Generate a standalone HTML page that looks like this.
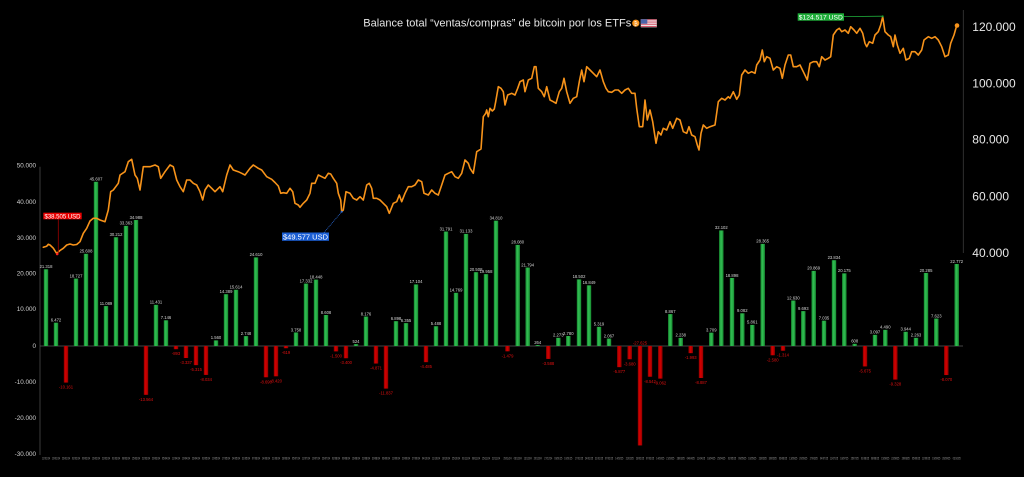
<!DOCTYPE html>
<html><head><meta charset="utf-8"><style>
html,body{margin:0;padding:0;background:#000;}
svg{display:block;}
.yl{font-family:"Liberation Sans",sans-serif;font-size:6.3px;fill:#cfcfcf;text-anchor:end;}
.yr{font-family:"Liberation Sans",sans-serif;font-size:12px;fill:#e8e8e8;}
.pl{font-family:"Liberation Sans",sans-serif;font-size:4.2px;fill:#d8d8d8;text-anchor:middle;}
.nl{font-family:"Liberation Sans",sans-serif;font-size:4.2px;fill:#e01010;text-anchor:middle;}
.xl{font-family:"Liberation Sans",sans-serif;font-size:3.4px;fill:#9a9a9a;text-anchor:middle;}
</style></head><body>
<svg width="1024" height="477" viewBox="0 0 1024 477" xmlns="http://www.w3.org/2000/svg">
<defs>
<linearGradient id="g" x1="0" x2="1" y1="0" y2="0"><stop offset="0" stop-color="#168a2e"/><stop offset="0.45" stop-color="#33c055"/><stop offset="1" stop-color="#168a2e"/></linearGradient>
<linearGradient id="r" x1="0" x2="1" y1="0" y2="0"><stop offset="0" stop-color="#8e0000"/><stop offset="0.45" stop-color="#d80000"/><stop offset="1" stop-color="#8e0000"/></linearGradient>
</defs>
<rect width="1024" height="477" fill="#000"/>

<!-- title -->
<text x="363.3" y="26.6" font-family="'Liberation Sans',sans-serif" font-size="11" fill="#e6e6e6" textLength="268" lengthAdjust="spacingAndGlyphs">Balance total “ventas/compras” de bitcoin por los ETFs</text>
<circle cx="635.8" cy="23.2" r="3.6" fill="#f7931a"/>
<text x="635.8" y="25.3" font-family="'Liberation Sans',sans-serif" font-size="5" fill="#fff" text-anchor="middle">₿</text>
<g>
<rect x="640.8" y="19.3" width="16" height="8" fill="#f2f2f2"/>
<rect x="640.8" y="19.3" width="16" height="1.1" fill="#d5566c"/>
<rect x="640.8" y="21.5" width="16" height="1.1" fill="#d5566c"/>
<rect x="640.8" y="23.7" width="16" height="1.1" fill="#d5566c"/>
<rect x="640.8" y="25.9" width="16" height="1.1" fill="#d5566c"/>
<rect x="640.8" y="19.3" width="6.5" height="4.4" fill="#4a64a8"/>
</g>

<!-- axes -->
<line x1="40" y1="166.7" x2="40" y2="455" stroke="#4a4a4a" stroke-width="0.8"/>
<line x1="963.3" y1="10" x2="963.3" y2="253" stroke="#3a3a3a" stroke-width="0.8"/>
<line x1="40" y1="346" x2="963" y2="346" stroke="#5a5a5a" stroke-width="0.7"/>

<!-- left labels -->
<text class="yl" x="36" y="167.7">50.000</text>
<text class="yl" x="36" y="203.9">40.000</text>
<text class="yl" x="36" y="239.9">30.000</text>
<text class="yl" x="36" y="275.4">20.000</text>
<text class="yl" x="36" y="311.2">10.000</text>
<text class="yl" x="36" y="347.9">0</text>
<text class="yl" x="36" y="383.9">-10.000</text>
<text class="yl" x="36" y="420.2">-20.000</text>
<text class="yl" x="36" y="456.2">-30.000</text>

<!-- right labels -->
<text class="yr" x="972.3" y="31">120.000</text>
<text class="yr" x="972.3" y="87.6">100.000</text>
<text class="yr" x="972.3" y="143.6">80.000</text>
<text class="yr" x="972.3" y="200.3">60.000</text>
<text class="yr" x="972.3" y="257">40.000</text>

<!-- bars -->
<g>
<rect x="43.8" y="269.26" width="4.4" height="76.74" fill="url(#g)"/>
<rect x="53.8" y="322.70" width="4.4" height="23.30" fill="url(#g)"/>
<rect x="63.8" y="346" width="4.4" height="36.58" fill="url(#r)"/>
<rect x="73.8" y="278.58" width="4.4" height="67.42" fill="url(#g)"/>
<rect x="83.8" y="253.81" width="4.4" height="92.19" fill="url(#g)"/>
<rect x="93.8" y="181.81" width="4.4" height="164.19" fill="url(#g)"/>
<rect x="103.8" y="306.08" width="4.4" height="39.92" fill="url(#g)"/>
<rect x="113.8" y="237.24" width="4.4" height="108.76" fill="url(#g)"/>
<rect x="123.8" y="225.89" width="4.4" height="120.11" fill="url(#g)"/>
<rect x="133.8" y="220.04" width="4.4" height="125.96" fill="url(#g)"/>
<rect x="143.8" y="346" width="4.4" height="48.83" fill="url(#r)"/>
<rect x="153.8" y="304.85" width="4.4" height="41.15" fill="url(#g)"/>
<rect x="163.8" y="320.27" width="4.4" height="25.73" fill="url(#g)"/>
<rect x="173.8" y="346" width="4.4" height="3.21" fill="url(#r)"/>
<rect x="183.8" y="346" width="4.4" height="12.01" fill="url(#r)"/>
<rect x="193.8" y="346" width="4.4" height="19.13" fill="url(#r)"/>
<rect x="203.8" y="346" width="4.4" height="28.92" fill="url(#r)"/>
<rect x="213.8" y="340.38" width="4.4" height="5.62" fill="url(#g)"/>
<rect x="223.8" y="294.20" width="4.4" height="51.80" fill="url(#g)"/>
<rect x="233.8" y="289.79" width="4.4" height="56.21" fill="url(#g)"/>
<rect x="243.8" y="336.11" width="4.4" height="9.89" fill="url(#g)"/>
<rect x="253.8" y="257.40" width="4.4" height="88.60" fill="url(#g)"/>
<rect x="263.8" y="346" width="4.4" height="31.28" fill="url(#r)"/>
<rect x="273.8" y="346" width="4.4" height="30.31" fill="url(#r)"/>
<rect x="283.8" y="346" width="4.4" height="2.23" fill="url(#r)"/>
<rect x="293.8" y="332.47" width="4.4" height="13.53" fill="url(#g)"/>
<rect x="303.8" y="283.60" width="4.4" height="62.40" fill="url(#g)"/>
<rect x="313.8" y="279.59" width="4.4" height="66.41" fill="url(#g)"/>
<rect x="323.8" y="315.01" width="4.4" height="30.99" fill="url(#g)"/>
<rect x="333.8" y="346" width="4.4" height="5.40" fill="url(#r)"/>
<rect x="343.8" y="346" width="4.4" height="12.24" fill="url(#r)"/>
<rect x="353.8" y="344.11" width="4.4" height="1.89" fill="url(#g)"/>
<rect x="363.8" y="316.57" width="4.4" height="29.43" fill="url(#g)"/>
<rect x="373.8" y="346" width="4.4" height="17.54" fill="url(#r)"/>
<rect x="383.8" y="346" width="4.4" height="42.61" fill="url(#r)"/>
<rect x="393.8" y="321.17" width="4.4" height="24.83" fill="url(#g)"/>
<rect x="403.8" y="323.12" width="4.4" height="22.88" fill="url(#g)"/>
<rect x="413.8" y="284.43" width="4.4" height="61.57" fill="url(#g)"/>
<rect x="423.8" y="346" width="4.4" height="16.15" fill="url(#r)"/>
<rect x="433.8" y="326.24" width="4.4" height="19.76" fill="url(#g)"/>
<rect x="443.8" y="231.55" width="4.4" height="114.45" fill="url(#g)"/>
<rect x="453.8" y="292.83" width="4.4" height="53.17" fill="url(#g)"/>
<rect x="463.8" y="233.92" width="4.4" height="112.08" fill="url(#g)"/>
<rect x="473.8" y="272.17" width="4.4" height="73.83" fill="url(#g)"/>
<rect x="483.8" y="274.15" width="4.4" height="71.85" fill="url(#g)"/>
<rect x="493.8" y="220.68" width="4.4" height="125.32" fill="url(#g)"/>
<rect x="505.3" y="346" width="4.4" height="5.32" fill="url(#r)"/>
<rect x="515.5" y="244.91" width="4.4" height="101.09" fill="url(#g)"/>
<rect x="525.5" y="267.54" width="4.4" height="78.46" fill="url(#g)"/>
<rect x="535.5" y="345.05" width="4.4" height="0.95" fill="url(#g)"/>
<rect x="546.1" y="346" width="4.4" height="12.92" fill="url(#r)"/>
<rect x="556.1" y="337.82" width="4.4" height="8.18" fill="url(#g)"/>
<rect x="566.1" y="335.99" width="4.4" height="10.01" fill="url(#g)"/>
<rect x="576.8" y="279.39" width="4.4" height="66.61" fill="url(#g)"/>
<rect x="586.8" y="285.34" width="4.4" height="60.66" fill="url(#g)"/>
<rect x="596.8" y="326.85" width="4.4" height="19.15" fill="url(#g)"/>
<rect x="606.8" y="338.56" width="4.4" height="7.44" fill="url(#g)"/>
<rect x="617.1" y="346" width="4.4" height="21.16" fill="url(#r)"/>
<rect x="627.5" y="346" width="4.4" height="13.25" fill="url(#r)"/>
<rect x="637.8" y="346" width="4.4" height="99.45" fill="url(#r)"/>
<rect x="647.8" y="346" width="4.4" height="30.75" fill="url(#r)"/>
<rect x="658.1" y="346" width="4.4" height="32.62" fill="url(#r)"/>
<rect x="668.1" y="314.08" width="4.4" height="31.92" fill="url(#g)"/>
<rect x="678.5" y="337.94" width="4.4" height="8.06" fill="url(#g)"/>
<rect x="688.5" y="346" width="4.4" height="7.17" fill="url(#r)"/>
<rect x="698.8" y="346" width="4.4" height="31.99" fill="url(#r)"/>
<rect x="709.1" y="332.65" width="4.4" height="13.35" fill="url(#g)"/>
<rect x="719.1" y="230.43" width="4.4" height="115.57" fill="url(#g)"/>
<rect x="729.8" y="277.97" width="4.4" height="68.03" fill="url(#g)"/>
<rect x="740.1" y="313.30" width="4.4" height="32.70" fill="url(#g)"/>
<rect x="750.1" y="324.90" width="4.4" height="21.10" fill="url(#g)"/>
<rect x="760.5" y="243.89" width="4.4" height="102.11" fill="url(#g)"/>
<rect x="770.5" y="346" width="4.4" height="9.29" fill="url(#r)"/>
<rect x="780.8" y="346" width="4.4" height="4.73" fill="url(#r)"/>
<rect x="791.1" y="300.53" width="4.4" height="45.47" fill="url(#g)"/>
<rect x="801.1" y="311.11" width="4.4" height="34.89" fill="url(#g)"/>
<rect x="811.5" y="270.87" width="4.4" height="75.13" fill="url(#g)"/>
<rect x="821.8" y="320.67" width="4.4" height="25.33" fill="url(#g)"/>
<rect x="831.8" y="260.20" width="4.4" height="85.80" fill="url(#g)"/>
<rect x="842.1" y="273.37" width="4.4" height="72.63" fill="url(#g)"/>
<rect x="852.5" y="343.81" width="4.4" height="2.19" fill="url(#g)"/>
<rect x="862.8" y="346" width="4.4" height="20.43" fill="url(#r)"/>
<rect x="872.8" y="334.85" width="4.4" height="11.15" fill="url(#g)"/>
<rect x="883.1" y="329.84" width="4.4" height="16.16" fill="url(#g)"/>
<rect x="893.1" y="346" width="4.4" height="33.58" fill="url(#r)"/>
<rect x="903.5" y="331.80" width="4.4" height="14.20" fill="url(#g)"/>
<rect x="913.8" y="337.85" width="4.4" height="8.15" fill="url(#g)"/>
<rect x="923.8" y="272.97" width="4.4" height="73.03" fill="url(#g)"/>
<rect x="934.1" y="318.56" width="4.4" height="27.44" fill="url(#g)"/>
<rect x="944.1" y="346" width="4.4" height="29.05" fill="url(#r)"/>
<rect x="954.5" y="264.02" width="4.4" height="81.98" fill="url(#g)"/>
</g>

<!-- bar labels -->
<g>
<text class="pl" x="46" y="268.1">21.318</text>
<text class="pl" x="56" y="321.5">6.472</text>
<text class="nl" x="66" y="388.6">-10.161</text>
<text class="pl" x="76" y="277.4">18.727</text>
<text class="pl" x="86" y="252.6">25.608</text>
<text class="pl" x="96" y="180.6">45.607</text>
<text class="pl" x="106" y="304.9">11.089</text>
<text class="pl" x="116" y="236.0">30.212</text>
<text class="pl" x="126" y="224.7">33.363</text>
<text class="pl" x="136" y="218.8">34.988</text>
<text class="nl" x="146" y="400.8">-13.564</text>
<text class="pl" x="156" y="303.6">11.431</text>
<text class="pl" x="166" y="319.1">7.146</text>
<text class="nl" x="176" y="355.2">-893</text>
<text class="nl" x="186" y="364.0">-3.337</text>
<text class="nl" x="196" y="371.1">-5.315</text>
<text class="nl" x="206" y="380.9">-8.034</text>
<text class="pl" x="216" y="339.2">1.560</text>
<text class="pl" x="226" y="293.0">14.389</text>
<text class="pl" x="236" y="288.6">15.614</text>
<text class="pl" x="246" y="334.9">2.748</text>
<text class="pl" x="256" y="256.2">24.610</text>
<text class="nl" x="266" y="383.3">-8.690</text>
<text class="nl" x="276" y="382.3">-8.420</text>
<text class="nl" x="286" y="354.2">-619</text>
<text class="pl" x="296" y="331.3">3.758</text>
<text class="pl" x="306" y="282.4">17.332</text>
<text class="pl" x="316" y="278.4">18.448</text>
<text class="pl" x="326" y="313.8">8.608</text>
<text class="nl" x="336" y="357.4">-1.500</text>
<text class="nl" x="346" y="364.2">-3.400</text>
<text class="pl" x="356" y="342.9">524</text>
<text class="pl" x="366" y="315.4">8.176</text>
<text class="nl" x="376" y="369.5">-4.871</text>
<text class="nl" x="386" y="394.6">-11.837</text>
<text class="pl" x="396" y="320.0">6.898</text>
<text class="pl" x="406" y="321.9">6.355</text>
<text class="pl" x="416" y="283.2">17.104</text>
<text class="nl" x="426" y="368.2">-4.485</text>
<text class="pl" x="436" y="325.0">5.488</text>
<text class="pl" x="446" y="230.4">31.791</text>
<text class="pl" x="456" y="291.6">14.769</text>
<text class="pl" x="466" y="232.7">31.133</text>
<text class="pl" x="476" y="271.0">20.508</text>
<text class="pl" x="486" y="273.0">19.958</text>
<text class="pl" x="496" y="219.5">34.810</text>
<text class="nl" x="507.5" y="357.3">-1.479</text>
<text class="pl" x="517.7" y="243.7">28.080</text>
<text class="pl" x="527.7" y="266.3">21.794</text>
<text class="pl" x="537.7" y="343.8">264</text>
<text class="nl" x="548.3" y="364.9">-3.588</text>
<text class="pl" x="558.3" y="336.6">2.273</text>
<text class="pl" x="568.3" y="334.8">2.780</text>
<text class="pl" x="579" y="278.2">18.502</text>
<text class="pl" x="589" y="284.1">16.849</text>
<text class="pl" x="599" y="325.7">5.319</text>
<text class="pl" x="609" y="337.4">2.067</text>
<text class="nl" x="619.3" y="373.2">-5.877</text>
<text class="nl" x="629.7" y="365.3">-3.680</text>
<text class="nl" x="640" y="344.3">-27.625</text>
<text class="nl" x="650" y="382.8">-8.542</text>
<text class="nl" x="660.3" y="384.6">-9.062</text>
<text class="pl" x="670.3" y="312.9">8.867</text>
<text class="pl" x="680.7" y="336.7">2.238</text>
<text class="nl" x="690.7" y="359.2">-1.993</text>
<text class="nl" x="701" y="384.0">-8.887</text>
<text class="pl" x="711.3" y="331.5">3.709</text>
<text class="pl" x="721.3" y="229.2">32.102</text>
<text class="pl" x="732" y="276.8">18.898</text>
<text class="pl" x="742.3" y="312.1">9.082</text>
<text class="pl" x="752.3" y="323.7">5.861</text>
<text class="pl" x="762.7" y="242.7">28.365</text>
<text class="nl" x="772.7" y="361.3">-2.580</text>
<text class="nl" x="783" y="356.7">-1.314</text>
<text class="pl" x="793.3" y="299.3">12.630</text>
<text class="pl" x="803.3" y="309.9">9.693</text>
<text class="pl" x="813.7" y="269.7">20.869</text>
<text class="pl" x="824" y="319.5">7.035</text>
<text class="pl" x="834" y="259.0">23.834</text>
<text class="pl" x="844.3" y="272.2">20.175</text>
<text class="pl" x="854.7" y="342.6">608</text>
<text class="nl" x="865" y="372.4">-5.675</text>
<text class="pl" x="875" y="333.7">3.097</text>
<text class="pl" x="885.3" y="328.6">4.490</text>
<text class="nl" x="895.3" y="385.6">-9.328</text>
<text class="pl" x="905.7" y="330.6">3.944</text>
<text class="pl" x="916" y="336.7">2.263</text>
<text class="pl" x="926" y="271.8">20.285</text>
<text class="pl" x="936.3" y="317.4">7.623</text>
<text class="nl" x="946.3" y="381.1">-8.070</text>
<text class="pl" x="956.7" y="262.8">22.772</text>
</g>

<!-- x labels -->
<g>
<text class="xl" x="46" y="459.6" textLength="8" lengthAdjust="spacingAndGlyphs">12/01/24</text>
<text class="xl" x="56" y="459.6" textLength="8" lengthAdjust="spacingAndGlyphs">19/01/24</text>
<text class="xl" x="66" y="459.6" textLength="8" lengthAdjust="spacingAndGlyphs">26/01/24</text>
<text class="xl" x="76" y="459.6" textLength="8" lengthAdjust="spacingAndGlyphs">02/02/24</text>
<text class="xl" x="86" y="459.6" textLength="8" lengthAdjust="spacingAndGlyphs">09/02/24</text>
<text class="xl" x="96" y="459.6" textLength="8" lengthAdjust="spacingAndGlyphs">16/02/24</text>
<text class="xl" x="106" y="459.6" textLength="8" lengthAdjust="spacingAndGlyphs">23/02/24</text>
<text class="xl" x="116" y="459.6" textLength="8" lengthAdjust="spacingAndGlyphs">01/03/24</text>
<text class="xl" x="126" y="459.6" textLength="8" lengthAdjust="spacingAndGlyphs">08/03/24</text>
<text class="xl" x="136" y="459.6" textLength="8" lengthAdjust="spacingAndGlyphs">15/03/24</text>
<text class="xl" x="146" y="459.6" textLength="8" lengthAdjust="spacingAndGlyphs">22/03/24</text>
<text class="xl" x="156" y="459.6" textLength="8" lengthAdjust="spacingAndGlyphs">29/03/24</text>
<text class="xl" x="166" y="459.6" textLength="8" lengthAdjust="spacingAndGlyphs">05/04/24</text>
<text class="xl" x="176" y="459.6" textLength="8" lengthAdjust="spacingAndGlyphs">12/04/24</text>
<text class="xl" x="186" y="459.6" textLength="8" lengthAdjust="spacingAndGlyphs">19/04/24</text>
<text class="xl" x="196" y="459.6" textLength="8" lengthAdjust="spacingAndGlyphs">26/04/24</text>
<text class="xl" x="206" y="459.6" textLength="8" lengthAdjust="spacingAndGlyphs">03/05/24</text>
<text class="xl" x="216" y="459.6" textLength="8" lengthAdjust="spacingAndGlyphs">10/05/24</text>
<text class="xl" x="226" y="459.6" textLength="8" lengthAdjust="spacingAndGlyphs">17/05/24</text>
<text class="xl" x="236" y="459.6" textLength="8" lengthAdjust="spacingAndGlyphs">24/05/24</text>
<text class="xl" x="246" y="459.6" textLength="8" lengthAdjust="spacingAndGlyphs">31/05/24</text>
<text class="xl" x="256" y="459.6" textLength="8" lengthAdjust="spacingAndGlyphs">07/06/24</text>
<text class="xl" x="266" y="459.6" textLength="8" lengthAdjust="spacingAndGlyphs">14/06/24</text>
<text class="xl" x="276" y="459.6" textLength="8" lengthAdjust="spacingAndGlyphs">21/06/24</text>
<text class="xl" x="286" y="459.6" textLength="8" lengthAdjust="spacingAndGlyphs">28/06/24</text>
<text class="xl" x="296" y="459.6" textLength="8" lengthAdjust="spacingAndGlyphs">05/07/24</text>
<text class="xl" x="306" y="459.6" textLength="8" lengthAdjust="spacingAndGlyphs">12/07/24</text>
<text class="xl" x="316" y="459.6" textLength="8" lengthAdjust="spacingAndGlyphs">19/07/24</text>
<text class="xl" x="326" y="459.6" textLength="8" lengthAdjust="spacingAndGlyphs">26/07/24</text>
<text class="xl" x="336" y="459.6" textLength="8" lengthAdjust="spacingAndGlyphs">02/08/24</text>
<text class="xl" x="346" y="459.6" textLength="8" lengthAdjust="spacingAndGlyphs">09/08/24</text>
<text class="xl" x="356" y="459.6" textLength="8" lengthAdjust="spacingAndGlyphs">16/08/24</text>
<text class="xl" x="366" y="459.6" textLength="8" lengthAdjust="spacingAndGlyphs">23/08/24</text>
<text class="xl" x="376" y="459.6" textLength="8" lengthAdjust="spacingAndGlyphs">30/08/24</text>
<text class="xl" x="386" y="459.6" textLength="8" lengthAdjust="spacingAndGlyphs">06/09/24</text>
<text class="xl" x="396" y="459.6" textLength="8" lengthAdjust="spacingAndGlyphs">13/09/24</text>
<text class="xl" x="406" y="459.6" textLength="8" lengthAdjust="spacingAndGlyphs">20/09/24</text>
<text class="xl" x="416" y="459.6" textLength="8" lengthAdjust="spacingAndGlyphs">27/09/24</text>
<text class="xl" x="426" y="459.6" textLength="8" lengthAdjust="spacingAndGlyphs">04/10/24</text>
<text class="xl" x="436" y="459.6" textLength="8" lengthAdjust="spacingAndGlyphs">11/10/24</text>
<text class="xl" x="446" y="459.6" textLength="8" lengthAdjust="spacingAndGlyphs">18/10/24</text>
<text class="xl" x="456" y="459.6" textLength="8" lengthAdjust="spacingAndGlyphs">25/10/24</text>
<text class="xl" x="466" y="459.6" textLength="8" lengthAdjust="spacingAndGlyphs">01/11/24</text>
<text class="xl" x="476" y="459.6" textLength="8" lengthAdjust="spacingAndGlyphs">08/11/24</text>
<text class="xl" x="486" y="459.6" textLength="8" lengthAdjust="spacingAndGlyphs">15/11/24</text>
<text class="xl" x="496" y="459.6" textLength="8" lengthAdjust="spacingAndGlyphs">22/11/24</text>
<text class="xl" x="507.5" y="459.6" textLength="8" lengthAdjust="spacingAndGlyphs">29/11/24</text>
<text class="xl" x="517.7" y="459.6" textLength="8" lengthAdjust="spacingAndGlyphs">06/12/24</text>
<text class="xl" x="527.7" y="459.6" textLength="8" lengthAdjust="spacingAndGlyphs">13/12/24</text>
<text class="xl" x="537.7" y="459.6" textLength="8" lengthAdjust="spacingAndGlyphs">20/12/24</text>
<text class="xl" x="548.3" y="459.6" textLength="8" lengthAdjust="spacingAndGlyphs">27/12/24</text>
<text class="xl" x="558.3" y="459.6" textLength="8" lengthAdjust="spacingAndGlyphs">03/01/25</text>
<text class="xl" x="568.3" y="459.6" textLength="8" lengthAdjust="spacingAndGlyphs">10/01/25</text>
<text class="xl" x="579" y="459.6" textLength="8" lengthAdjust="spacingAndGlyphs">17/01/25</text>
<text class="xl" x="589" y="459.6" textLength="8" lengthAdjust="spacingAndGlyphs">24/01/25</text>
<text class="xl" x="599" y="459.6" textLength="8" lengthAdjust="spacingAndGlyphs">31/01/25</text>
<text class="xl" x="609" y="459.6" textLength="8" lengthAdjust="spacingAndGlyphs">07/02/25</text>
<text class="xl" x="619.3" y="459.6" textLength="8" lengthAdjust="spacingAndGlyphs">14/02/25</text>
<text class="xl" x="629.7" y="459.6" textLength="8" lengthAdjust="spacingAndGlyphs">21/02/25</text>
<text class="xl" x="640" y="459.6" textLength="8" lengthAdjust="spacingAndGlyphs">28/02/25</text>
<text class="xl" x="650" y="459.6" textLength="8" lengthAdjust="spacingAndGlyphs">07/03/25</text>
<text class="xl" x="660.3" y="459.6" textLength="8" lengthAdjust="spacingAndGlyphs">14/03/25</text>
<text class="xl" x="670.3" y="459.6" textLength="8" lengthAdjust="spacingAndGlyphs">21/03/25</text>
<text class="xl" x="680.7" y="459.6" textLength="8" lengthAdjust="spacingAndGlyphs">28/03/25</text>
<text class="xl" x="690.7" y="459.6" textLength="8" lengthAdjust="spacingAndGlyphs">04/04/25</text>
<text class="xl" x="701" y="459.6" textLength="8" lengthAdjust="spacingAndGlyphs">11/04/25</text>
<text class="xl" x="711.3" y="459.6" textLength="8" lengthAdjust="spacingAndGlyphs">18/04/25</text>
<text class="xl" x="721.3" y="459.6" textLength="8" lengthAdjust="spacingAndGlyphs">25/04/25</text>
<text class="xl" x="732" y="459.6" textLength="8" lengthAdjust="spacingAndGlyphs">02/05/25</text>
<text class="xl" x="742.3" y="459.6" textLength="8" lengthAdjust="spacingAndGlyphs">09/05/25</text>
<text class="xl" x="752.3" y="459.6" textLength="8" lengthAdjust="spacingAndGlyphs">16/05/25</text>
<text class="xl" x="762.7" y="459.6" textLength="8" lengthAdjust="spacingAndGlyphs">23/05/25</text>
<text class="xl" x="772.7" y="459.6" textLength="8" lengthAdjust="spacingAndGlyphs">30/05/25</text>
<text class="xl" x="783" y="459.6" textLength="8" lengthAdjust="spacingAndGlyphs">06/06/25</text>
<text class="xl" x="793.3" y="459.6" textLength="8" lengthAdjust="spacingAndGlyphs">13/06/25</text>
<text class="xl" x="803.3" y="459.6" textLength="8" lengthAdjust="spacingAndGlyphs">20/06/25</text>
<text class="xl" x="813.7" y="459.6" textLength="8" lengthAdjust="spacingAndGlyphs">27/06/25</text>
<text class="xl" x="824" y="459.6" textLength="8" lengthAdjust="spacingAndGlyphs">04/07/25</text>
<text class="xl" x="834" y="459.6" textLength="8" lengthAdjust="spacingAndGlyphs">11/07/25</text>
<text class="xl" x="844.3" y="459.6" textLength="8" lengthAdjust="spacingAndGlyphs">18/07/25</text>
<text class="xl" x="854.7" y="459.6" textLength="8" lengthAdjust="spacingAndGlyphs">25/07/25</text>
<text class="xl" x="865" y="459.6" textLength="8" lengthAdjust="spacingAndGlyphs">01/08/25</text>
<text class="xl" x="875" y="459.6" textLength="8" lengthAdjust="spacingAndGlyphs">08/08/25</text>
<text class="xl" x="885.3" y="459.6" textLength="8" lengthAdjust="spacingAndGlyphs">15/08/25</text>
<text class="xl" x="895.3" y="459.6" textLength="8" lengthAdjust="spacingAndGlyphs">22/08/25</text>
<text class="xl" x="905.7" y="459.6" textLength="8" lengthAdjust="spacingAndGlyphs">29/08/25</text>
<text class="xl" x="916" y="459.6" textLength="8" lengthAdjust="spacingAndGlyphs">05/09/25</text>
<text class="xl" x="926" y="459.6" textLength="8" lengthAdjust="spacingAndGlyphs">12/09/25</text>
<text class="xl" x="936.3" y="459.6" textLength="8" lengthAdjust="spacingAndGlyphs">19/09/25</text>
<text class="xl" x="946.3" y="459.6" textLength="8" lengthAdjust="spacingAndGlyphs">26/09/25</text>
<text class="xl" x="956.7" y="459.6" textLength="8" lengthAdjust="spacingAndGlyphs">03/10/25</text>
</g>

<!-- price line -->
<polyline fill="none" stroke="#f7931a" stroke-width="1.6" stroke-linejoin="round" stroke-linecap="round" points="
43.3,247.3 46.7,246.2 48.3,244.3 50,245 53.3,248.2 56.7,253.5 60,250.5 63.3,248.3 66.7,245 70,244 73.3,245 76.7,244.5 80,241.7 83.3,233.3 86.7,228.3 90,221 93.3,218.3 96.7,218.3 100,220 105,221.7 108.3,210 110.7,191.7 113.3,190 118.3,183.3 120,175 125,171.7 128.3,161.7 131.7,159.3 135,175 137.3,178.3 140,190 143.3,166.7 150,166.7 155,165 158.3,166.7 160.7,178.3 165,171.7 170,165 173.3,166.7 176.7,180 180,186.7 183.3,191.7 186.7,180 190,180 193.3,183.3 196.7,185 200,191.7 202.7,200 205,190 208.3,185 211.7,188.3 215,191.7 220,186.7 222.7,191.7 226.7,175 230,165 233.3,170 238.3,171.7 241.7,173.3 245,175 250,168.3 253.3,165 258.3,168.3 261.7,170 266.7,176.7 271.7,179.3 275,182.5 278.3,186 280.7,193.3 283.3,192.7 286.7,193.3 290,188.3 292.7,191.7 295,203.3 298.3,205 300,207.3 303.3,203.3 306.7,200 310,193.3 311.7,183.3 315,183.3 318.3,175 321.7,176.7 325,178.3 328.3,173.3 330.7,174 333.3,178.3 336.7,183.3 338.3,193.3 340.7,200 341.7,211.7 343.3,210 346,191.7 350,193.3 353.3,198.3 356.7,200 360,196.7 363.3,200 366.7,185 369.3,183.3 371.7,188.3 373.3,198.3 376.7,198.3 380,200 383.3,203.3 386.7,206.7 389.3,213.3 393.3,203.3 396.7,201.7 399.3,195 401.7,201.7 405,193.3 408.3,186.7 411.7,186.7 415,185 418.3,180 421.7,181.7 424,193.3 428.3,195 431.7,190 435,193.3 438.3,195 441.7,185 445,175 448.3,173.3 451.7,171.7 455,176.7 458.3,178.3 461.7,173.3 465,160 468.3,163.3 470,168.3 473.3,173.3 476.7,151.7 481,149 483.3,116.7 485.7,113.3 486.7,110 488.3,116.7 490,108.3 492.3,111 494.3,109 495.7,101.7 498.3,86.7 501,88.3 503.3,91.7 505,105 507.7,95 511.7,93.3 515,95 517.7,88.3 520,81.7 523.3,80 525,91.7 528.3,80 531.7,78.3 534.3,66.7 536,66.7 538.3,88.3 541.7,91.7 544.3,96.7 546.7,86.7 550,100 553.3,101.7 556,103.3 559.3,91.7 561.7,88.3 564,78.3 566.7,91.7 570,103.3 573.3,98.3 576.7,96.7 579.3,81.7 581.7,70 584,81.7 586.7,66.7 590,70 593.3,73.3 596.7,76.7 600,70 603.3,81.7 606,88.3 608.3,91.7 611.7,92.3 615,90 618.3,90 621.7,93.3 625,90 628.3,88.3 631.7,93.3 635,93.3 636.7,108.3 639.3,126.7 642.7,126.7 645,100 647.3,120 650,110 652.7,121.7 656,143.3 658.3,131.7 661,135 663.3,128.3 666.7,130 670,121.7 672.7,128.3 676.7,118.3 680,120 683.3,131.7 686.7,133.3 689,126.7 691.7,135 695,136.7 697.3,145 699,150 701,133.3 703.3,125 706.7,128.3 710,126.7 715,125 718.3,101.7 721.7,98.3 725,100 728.3,96.7 730,98.3 733.3,91.7 736.7,99.3 739.3,95 741.7,75 745,70 748.3,73.3 751.7,71.7 755,73.3 756.7,65 760,60 762.3,50 764.3,61.7 766.7,56.7 770,58.3 773.3,70 776.7,66.7 780,68.3 782.3,78.3 785,65 788.3,55 790.7,55 793.3,66.7 796.7,66.7 800,65 803.3,71.7 807.3,80 810,63.3 813.3,61.7 816.7,61.7 819.3,66.7 821.7,56.7 825,60 828.3,58.3 830.7,56.7 833.3,35 836.7,30 839.3,28.3 841.7,31.7 845,30 848.3,33.3 850.7,26.7 854,30 856.7,33.3 860,28.3 862.7,33.3 865,43.3 866.7,46.7 869.3,41.7 872.7,43.3 875,35 878.3,31.7 880.7,25 882.7,16.7 885,31.7 888.3,35 890.7,36.7 893.3,46.7 895,35 897.3,45 900,53.3 903.3,48.3 906,60 909.3,58.3 911.7,51.7 915,51.7 918.3,55 921.7,50 924,40 928.3,36.7 931.7,38.3 935,36.7 938.3,40 941.7,46.7 945,56.7 948.3,55 950.7,43.3 954,35 956.7,25.5"/>
<circle cx="957" cy="25.5" r="2.3" fill="#f7931a"/>

<!-- annotations -->
<line x1="58.3" y1="219" x2="58.3" y2="253.5" stroke="#9a0000" stroke-width="0.8"/>
<circle cx="57.2" cy="254" r="1.3" fill="#ff2020"/>
<rect x="43.3" y="212.7" width="38.4" height="6.6" fill="#e80000"/>
<text x="62.5" y="218.3" font-family="'Liberation Sans',sans-serif" font-size="6.2" fill="#fff" text-anchor="middle" textLength="36" lengthAdjust="spacingAndGlyphs">$38.505 USD</text>

<line x1="324" y1="232.6" x2="341.7" y2="211.7" stroke="#2a6ad8" stroke-width="0.8" stroke-dasharray="1,0.8"/>
<circle cx="341.7" cy="211.7" r="1" fill="#2a6ad8"/>
<rect x="282" y="232.5" width="47" height="8.3" fill="#1c5fd4"/>
<text x="305.5" y="239.4" font-family="'Liberation Sans',sans-serif" font-size="7.5" fill="#fff" text-anchor="middle" textLength="45" lengthAdjust="spacingAndGlyphs">$49.577 USD</text>

<line x1="844" y1="16.6" x2="882.7" y2="16.2" stroke="#1faa3a" stroke-width="0.8"/>
<circle cx="882.7" cy="16.4" r="1" fill="#1faa3a"/>
<rect x="797.7" y="13.3" width="46.3" height="7.4" fill="#1fae3a"/>
<text x="820.8" y="19.6" font-family="'Liberation Sans',sans-serif" font-size="6.8" fill="#fff" text-anchor="middle" textLength="44" lengthAdjust="spacingAndGlyphs">$124.517 USD</text>
</svg>
</body></html>
